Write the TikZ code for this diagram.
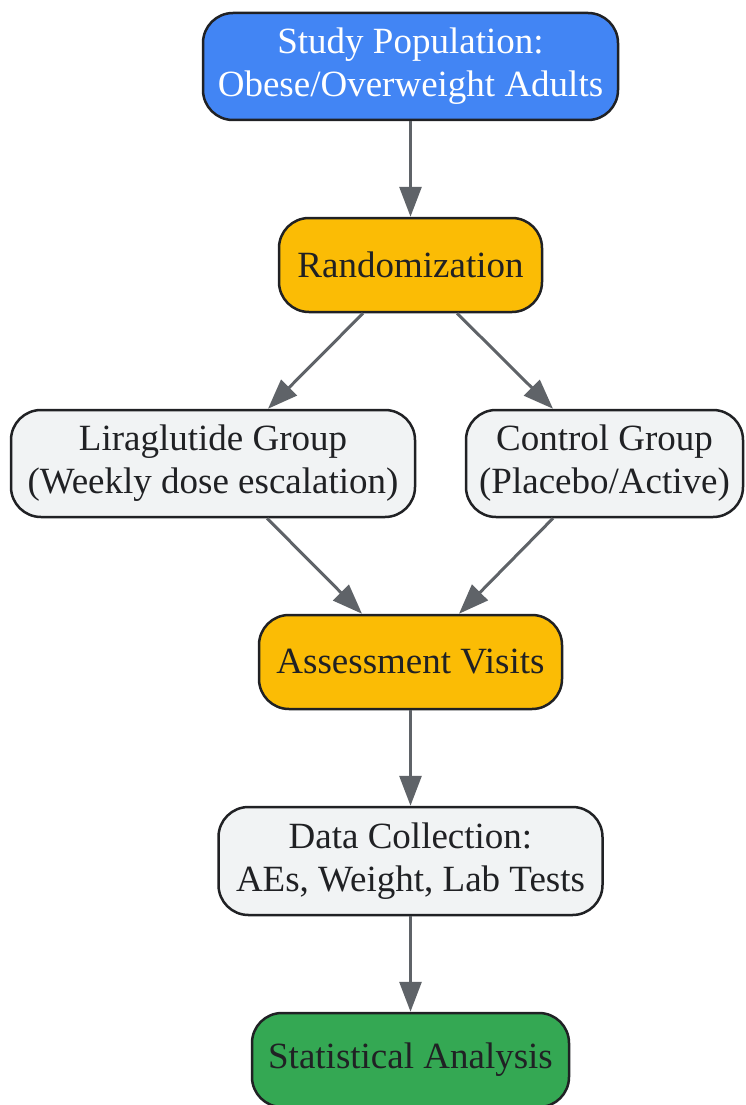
\documentclass[tikz,border=0pt]{standalone}
\usepackage{fontspec}
\setmainfont{Liberation Serif}
\usetikzlibrary{arrows.meta,calc}
\definecolor{gblue}{HTML}{4285F4}
\definecolor{gyellow}{HTML}{FBBC05}
\definecolor{ggray}{HTML}{F1F3F4}
\definecolor{ggreen}{HTML}{34A853}
\definecolor{gdark}{HTML}{202124}
\definecolor{garrow}{HTML}{5F6368}
\begin{document}
\begin{tikzpicture}[x=1pt,y=-1pt,
  box/.style={draw=gdark, line width=2.5pt, rounded corners=30pt, inner sep=0pt,
    align=center, text=gdark, font=\fontsize{37}{43}\selectfont},
  conn/.style={draw=garrow, line width=3pt, -{Triangle[length=30pt,width=22pt]}}]
\useasboundingbox (0,0) rectangle (745,1105);
\node[box, fill=gblue, text=white, minimum width=415pt, minimum height=107pt] (pop) at (410.5,66.5) {Study Population:\\Obese/Overweight Adults};
\node[box, fill=gyellow, minimum width=263pt, minimum height=94pt] (rand) at (410.5,265) {Randomization};
\node[box, fill=ggray, minimum width=404pt, minimum height=107pt] (lira) at (213,463.5) {Liraglutide Group\\(Weekly dose escalation)};
\node[box, fill=ggray, minimum width=277pt, minimum height=107pt] (ctrl) at (604.5,463.5) {Control Group\\(Placebo/Active)};
\node[box, fill=gyellow, minimum width=303pt, minimum height=94pt] (assess) at (410.5,662) {Assessment Visits};
\node[box, fill=ggray, minimum width=384pt, minimum height=108pt] (data) at (410.5,861) {Data Collection:\\AEs, Weight, Lab Tests};
\node[box, fill=ggreen, minimum width=317pt, minimum height=94pt] (stat) at (410.5,1060) {Statistical Analysis};
\draw[conn] (pop.south) -- (rand.north);
\draw[conn] ($(rand.south)+(-47.5,0)$) -- ($(lira.north)+(55,0)$);
\draw[conn] ($(rand.south)+(46.5,0)$) -- ($(ctrl.north)+(-51.5,0)$);
\draw[conn] ($(lira.south)+(54,0)$) -- ($(assess.north)+(-48.5,0)$);
\draw[conn] ($(ctrl.south)+(-51.5,0)$) -- ($(assess.north)+(48.5,0)$);
\draw[conn] (assess.south) -- (data.north);
\draw[conn] (data.south) -- (stat.north);
\end{tikzpicture}
\end{document}
